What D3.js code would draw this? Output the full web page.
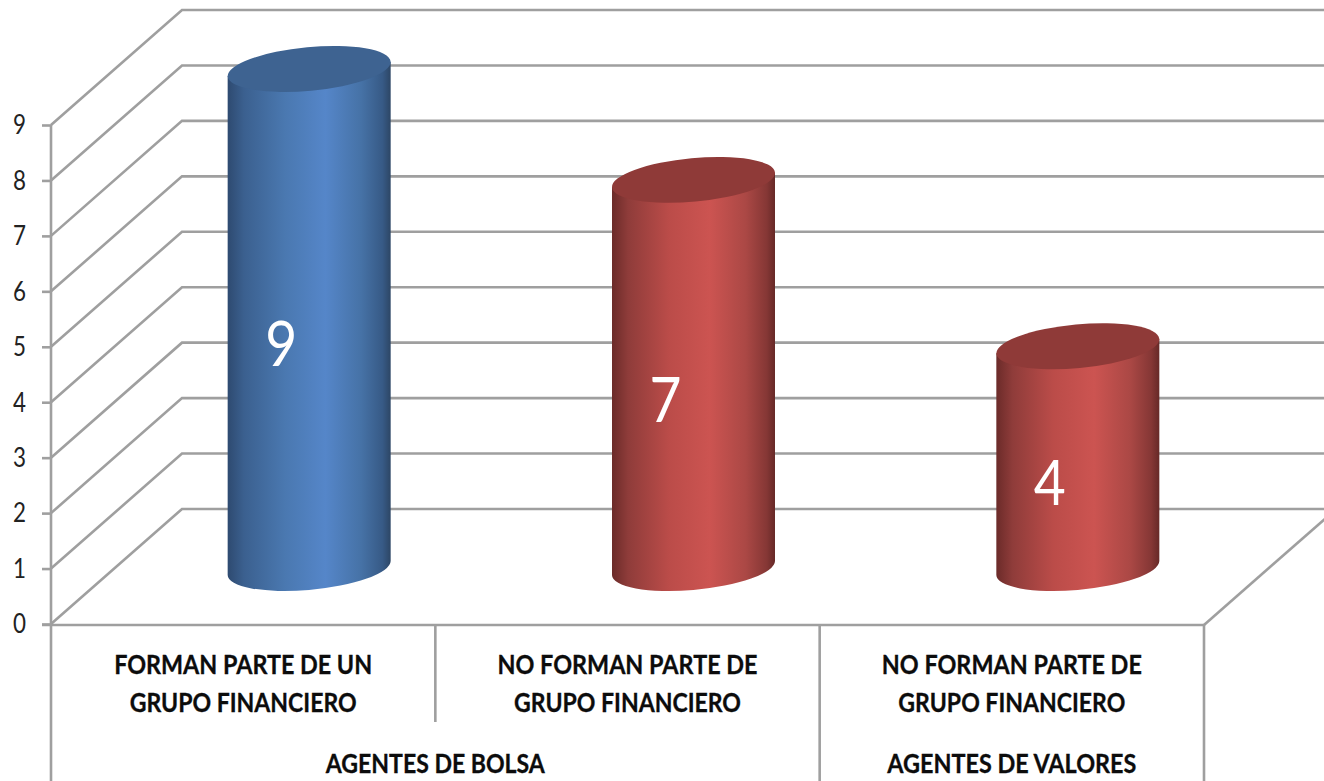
<!DOCTYPE html>
<html><head><meta charset="utf-8">
<script src="https://cdn.jsdelivr.net/npm/d3@7"></script>
<style>html,body{margin:0;padding:0;background:#fff;overflow:hidden}svg{display:block}</style>
</head><body><svg id="c" width="1324" height="781"></svg>
<script>
const categories = [["FORMAN PARTE DE UN","GRUPO FINANCIERO"],["NO FORMAN PARTE DE","GRUPO FINANCIERO"],["NO FORMAN PARTE DE","GRUPO FINANCIERO"]];
const groups = ["AGENTES DE BOLSA","AGENTES DE VALORES"];
const groupSpans = [2,1];
const values = [9,7,4];
const seriesKeys = ["blue","red","red"];
const yTicks = [0,1,2,3,4,5,6,7,8,9];

const W=1324,H=781, L=51,R=1204, Y0=624,Y9=125, DX=131,DY=-115, GRID="#9f9f9f";
const FONT="Lato, Carlito, sans-serif";
const svg=d3.select("#c");
const y=d3.scaleLinear().domain([0,9]).range([Y0,Y9]);
const x=d3.scaleBand().domain(d3.range(values.length)).range([L,R]);
const defs=svg.append("defs");
const pal={blue:{top:"#3e6391",stops:[[0,"#2e4a70"],[.1,"#3b608f"],[.35,"#4a78b0"],[.6,"#5586c9"],[.82,"#4672a6"],[.95,"#375a86"],[1,"#2d4665"]]},
 red:{top:"#8f3a38",stops:[[0,"#6b2b29"],[.1,"#8f3c3a"],[.35,"#bb4c49"],[.6,"#cc5451"],[.82,"#ab4845"],[.95,"#853735"],[1,"#662927"]]}};
Object.entries(pal).forEach(([k,p])=>{
  const g=defs.append("linearGradient").attr("id","g-"+k).attr("x1",0).attr("x2",1).attr("y1",0).attr("y2",0);
  p.stops.forEach(s=>g.append("stop").attr("offset",s[0]).attr("stop-color",s[1]));
});
const grid=svg.append("g").attr("fill","none").attr("stroke",GRID).attr("stroke-width",2.6);
grid.selectAll("path.g").data(yTicks).join("path").attr("class","g")
 .attr("d",v=>`M${L},${y(v)}L${L+DX},${y(v)+DY}L${R+DX},${y(v)+DY}`);
grid.append("line").attr("x1",R).attr("y1",Y0+1).attr("x2",R+DX).attr("y2",Y0+1+DY);
grid.append("line").attr("x1",L-9).attr("x2",R).attr("y1",Y0+1).attr("y2",Y0+1);
const ax=svg.append("g").attr("transform",`translate(${L},0)`).call(d3.axisLeft(y).tickValues(yTicks).tickSize(9).tickPadding(16).tickFormat(d3.format("d")));
ax.select(".domain").remove();
ax.selectAll("line").attr("stroke",GRID).attr("stroke-width",2.6);
ax.selectAll("text").attr("font-family",FONT).attr("font-size",26).attr("fill","#222").attr("dy","0.34em")
 .attr("textLength",13).attr("lengthAdjust","spacingAndGlyphs");
const sep=[[L,Y9,H],[x(1),Y0,722],[x(2),Y0,H],[R,Y0,H]];
grid.selectAll("line.s").data(sep).join("line").attr("class","s").attr("x1",d=>d[0]).attr("x2",d=>d[0]).attr("y1",d=>d[1]).attr("y2",d=>d[2]);
const hw=81.5, tilt=7, rx=81.8, ry=21.8, rot=-5.3;
const cx=i=>x(i)+x.bandwidth()/2+DX/2+0.5;
const base=v=>y(v)-56;
const bars=svg.append("g").selectAll("g").data(values).join("g");
bars.append("path").attr("fill",(d,i)=>`url(#g-${seriesKeys[i]})`)
 .attr("d",(d,i)=>{const c=cx(i),t=base(d),b=base(0);
  return `M${c-hw},${t+tilt}L${c-hw},${b+tilt}A${rx},${ry} ${rot} 0 0 ${c+hw},${b-tilt}L${c+hw},${t-tilt}Z`;});
bars.append("ellipse").attr("fill",(d,i)=>pal[seriesKeys[i]].top)
 .attr("rx",rx).attr("ry",ry)
 .attr("transform",(d,i)=>`translate(${cx(i)},${base(d)}) rotate(${rot})`);
bars.append("text").text(d=>d).attr("fill","#fff").attr("font-family",FONT).attr("font-size",62)
 .attr("text-anchor","middle").attr("dy","0.35em").attr("textLength",32).attr("lengthAdjust","spacingAndGlyphs")
 .attr("x",(d,i)=>x(i)+x.bandwidth()/2+38).attr("y",d=>y(d/2)-30);
const lab=svg.append("g").attr("font-family",FONT).attr("font-weight",700).attr("font-size",26).attr("fill","#0c0c0c")
 .attr("stroke","#0c0c0c").attr("stroke-width",0.3).attr("text-anchor","middle");
categories.forEach((c,i)=>c.forEach((t,j)=>{
  lab.append("text").text(t).attr("x",x(i)+x.bandwidth()/2).attr("y",674+j*38).attr("textLength",j==0?(i==0?258:260):227).attr("lengthAdjust","spacingAndGlyphs");
}));
let start=0;
groups.forEach((g,k)=>{
  const a=x(start), b=x(start+groupSpans[k]-1)+x.bandwidth();
  lab.append("text").text(g).attr("x",(a+b)/2).attr("y",773).attr("textLength",k==0?219:249).attr("lengthAdjust","spacingAndGlyphs");
  start+=groupSpans[k];
});
</script></body></html>
